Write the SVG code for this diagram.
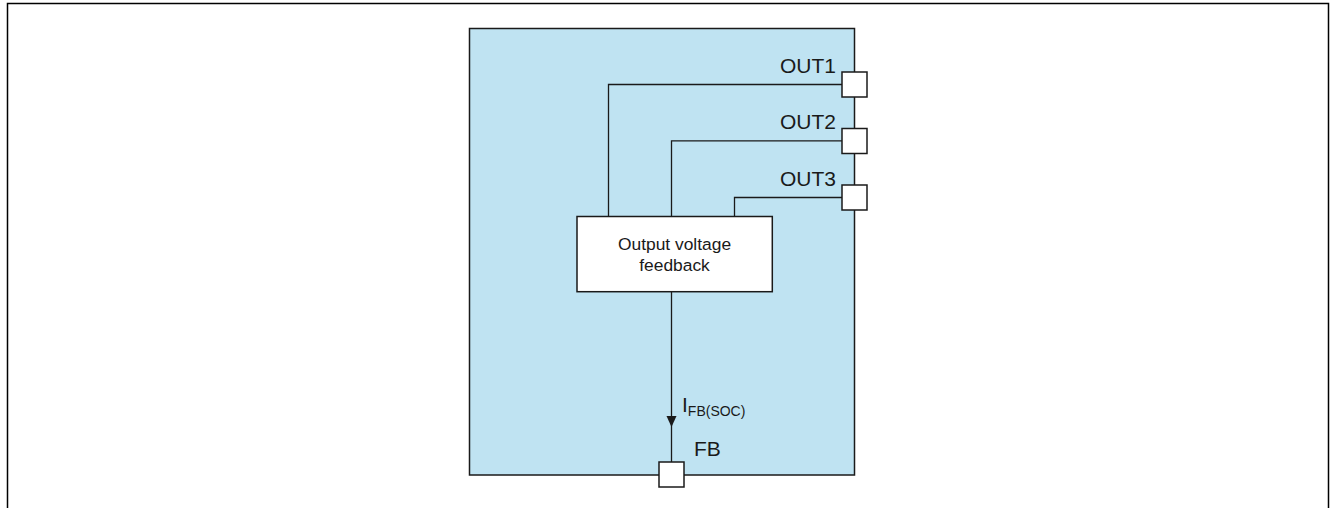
<svg xmlns="http://www.w3.org/2000/svg" width="1331" height="508" viewBox="0 0 1331 508">
  <style>
    .wire { fill: none; stroke: #1a1a1a; stroke-width: 1.3; }
    .pin { fill: #ffffff; stroke: #1a1a1a; stroke-width: 1.5; }
    .lbl { font-family: "Liberation Sans", Arial, sans-serif; fill: #1a1a1a; }
  </style>
  <rect width="1331" height="508" fill="#ffffff"/>
  <path id="frame" d="M7.5,508 L7.5,3.5 L1328.5,3.5 L1328.5,508" fill="none" stroke="#000000" stroke-width="1.5"/>

  <g id="chip">
    <rect x="469.5" y="28.5" width="385" height="446.5" fill="#bfe3f2" stroke="#1a1a1a" stroke-width="1.5"/>
  </g>

  <g id="connectors">
    <path class="wire" d="M608.5,216.5 L608.5,84.5 L842,84.5"/>
    <path class="wire" d="M671.5,216.5 L671.5,140.8 L842,140.8"/>
    <path class="wire" d="M734.5,216.5 L734.5,197.5 L842,197.5"/>
    <path class="wire" d="M671.5,291.7 L671.5,462"/>
    <path d="M666.5,416 L676.5,416 L671.5,427 Z" fill="#1a1a1a"/>
  </g>

  <g id="feedback">
    <rect x="577" y="216.5" width="195.3" height="75.2" fill="#ffffff" stroke="#1a1a1a" stroke-width="1.5"/>
    <text class="lbl" x="674.5" y="250" font-size="17.4" text-anchor="middle">Output voltage</text>
    <text class="lbl" x="674.5" y="271" font-size="17.4" text-anchor="middle">feedback</text>
  </g>

  <g id="out1">
    <rect class="pin" x="842" y="72" width="25" height="25"/>
    <text class="lbl" x="836" y="72.5" font-size="21" text-anchor="end">OUT1</text>
  </g>
  <g id="out2">
    <rect class="pin" x="842" y="128.5" width="25" height="25"/>
    <text class="lbl" x="836" y="129" font-size="21" text-anchor="end">OUT2</text>
  </g>
  <g id="out3">
    <rect class="pin" x="842" y="185" width="25" height="25"/>
    <text class="lbl" x="836" y="185.5" font-size="21" text-anchor="end">OUT3</text>
  </g>

  <g id="fb">
    <rect class="pin" x="659" y="462" width="25" height="25"/>
    <text class="lbl" x="694" y="456" font-size="21">FB</text>
  </g>

  <g id="current-label">
    <text class="lbl" x="682" y="412" font-size="21">I<tspan font-size="14" dy="3.5">FB(SOC)</tspan></text>
  </g>
</svg>
